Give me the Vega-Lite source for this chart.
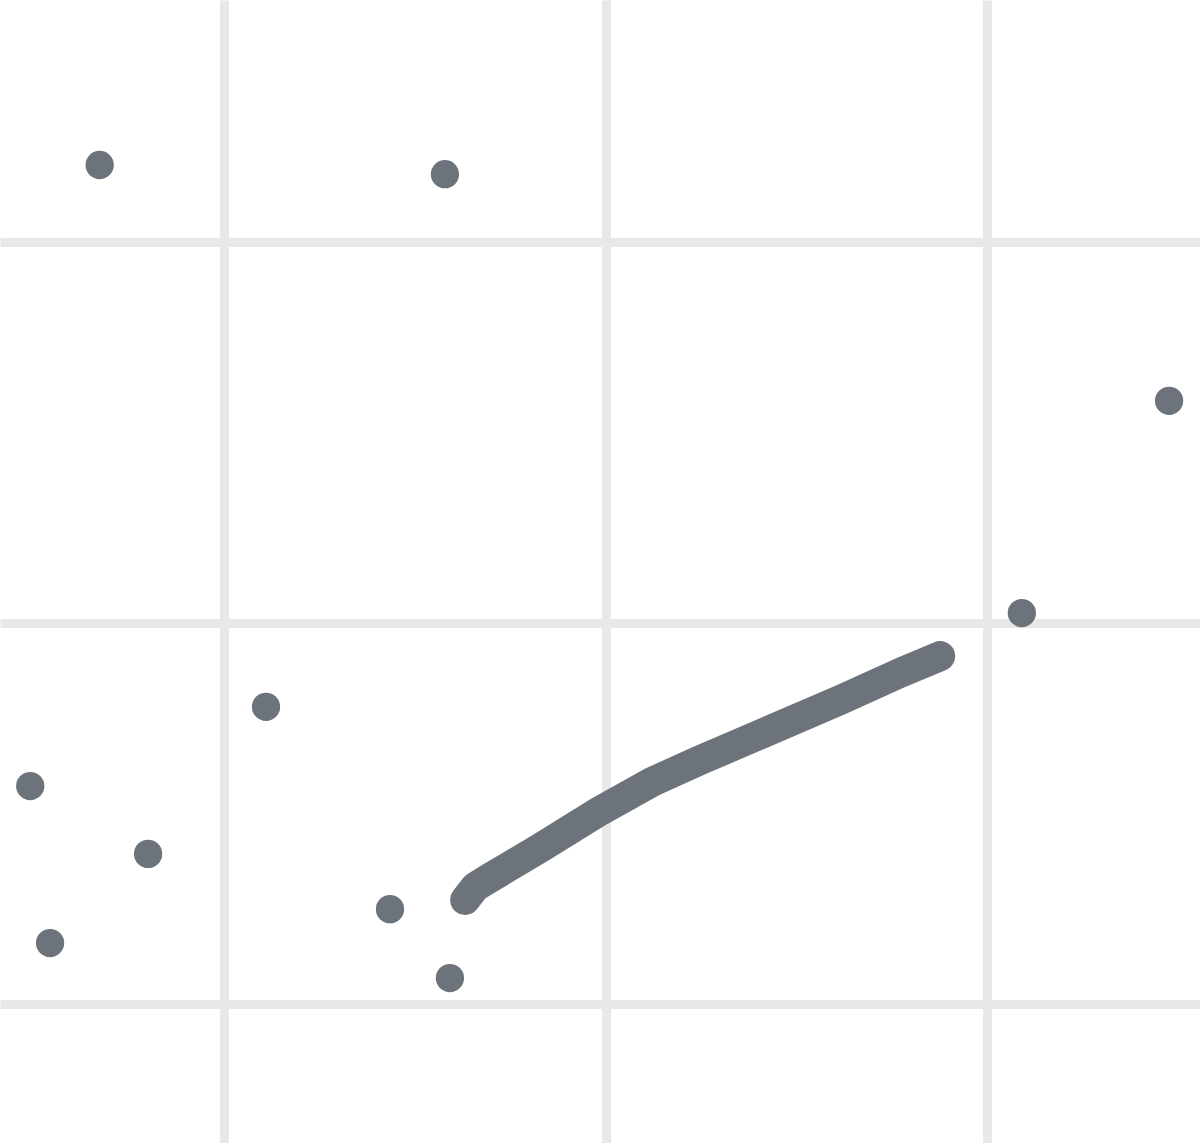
{
  "$schema": "https://vega.github.io/schema/vega-lite/v6.json",
  "width": 1200,
  "height": 1143,
  "padding": 0,
  "autosize": {"type": "fit", "contains": "padding"},
  "background": "white",
  "config": {
    "view": {"stroke": null},
    "axis": {
      "grid": true,
      "gridColor": "#e8e8e8",
      "gridWidth": 9,
      "gridOpacity": 1,
      "labels": false,
      "ticks": false,
      "domain": false,
      "title": null
    }
  },
  "datasets": {
    "points": [
      {"x": 6.74, "y": 32.02},
      {"x": 15.79, "y": 31.78},
      {"x": 34.77, "y": 25.83},
      {"x": 30.91, "y": 20.26},
      {"x": 11.10, "y": 17.80},
      {"x": 4.92, "y": 15.72},
      {"x": 8.01, "y": 13.94},
      {"x": 14.35, "y": 12.49},
      {"x": 5.44, "y": 11.60},
      {"x": 15.92, "y": 10.68}
    ],
    "curve": [
      {"x": 16.32, "y": 12.73},
      {"x": 16.58, "y": 13.07},
      {"x": 16.97, "y": 13.31},
      {"x": 18.28, "y": 14.09},
      {"x": 19.86, "y": 15.07},
      {"x": 21.22, "y": 15.83},
      {"x": 22.48, "y": 16.40},
      {"x": 26.15, "y": 17.98},
      {"x": 27.72, "y": 18.69},
      {"x": 28.77, "y": 19.13}
    ]
  },
  "layer": [
    {
      "data": {"name": "curve"},
      "mark": {"type": "line", "color": "#6c737a", "strokeWidth": 30, "strokeCap": "round", "strokeJoin": "round", "interpolate": "linear"},
      "encoding": {
        "x": {"field": "x", "type": "quantitative", "scale": {"domain": [4.128, 35.58], "nice": false, "zero": false}, "axis": {"values": [10, 20, 30]}},
        "y": {"field": "y", "type": "quantitative", "scale": {"domain": [6.352, 36.35], "nice": false, "zero": false}, "axis": {"values": [10, 20, 30]}}
      }
    },
    {
      "data": {"name": "points"},
      "mark": {"type": "circle", "color": "#6c737a", "opacity": 1, "size": 800},
      "encoding": {
        "x": {"field": "x", "type": "quantitative"},
        "y": {"field": "y", "type": "quantitative"}
      }
    }
  ]
}
